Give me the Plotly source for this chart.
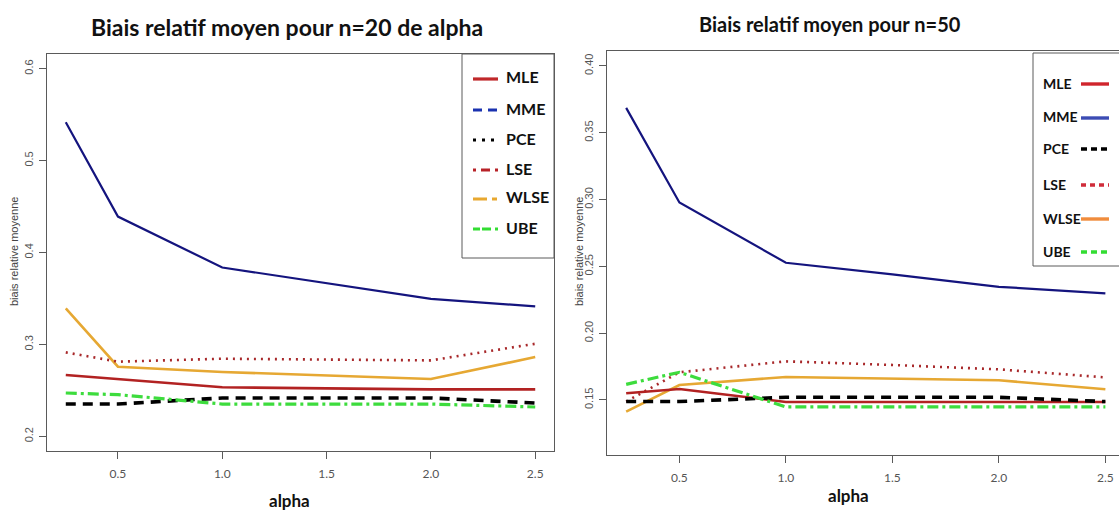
import plotly.graph_objects as go

# ---- data -------------------------------------------------------------
alpha = [0.25, 0.5, 1.0, 1.5, 2.0, 2.5]
estimators = ["MLE", "MME", "PCE", "LSE", "WLSE", "UBE"]

# mean relative bias, n = 20
mle_20 = [0.2667, 0.2620, 0.2533, 0.2522, 0.2511, 0.2511]
mme_20 = [0.5417, 0.4391, 0.3837, 0.3667, 0.3496, 0.3413]
pce_20 = [0.2351, 0.2351, 0.2417, 0.2417, 0.2417, 0.2362]
lse_20 = [0.2913, 0.2812, 0.2844, 0.2837, 0.2826, 0.3007]
wlse_20 = [0.3391, 0.2757, 0.2700, 0.2663, 0.2623, 0.2862]
ube_20 = [0.2471, 0.2453, 0.2351, 0.2351, 0.2351, 0.2319]

# mean relative bias, n = 50
mle_50 = [0.1550, 0.1582, 0.1485, 0.1485, 0.1485, 0.1485]
mme_50 = [0.3686, 0.2978, 0.2527, 0.2440, 0.2347, 0.2298]
pce_50 = [0.1488, 0.1488, 0.1520, 0.1520, 0.1520, 0.1488]
lse_50 = [0.1488, 0.1707, 0.1789, 0.1762, 0.1729, 0.1669]
wlse_50 = [0.1413, 0.1612, 0.1672, 0.1660, 0.1647, 0.1580]
ube_50 = [0.1617, 0.1707, 0.1448, 0.1448, 0.1448, 0.1448]

x_ticks = [0.5, 1.0, 1.5, 2.0, 2.5]
y_ticks_20 = [0.2, 0.3, 0.4, 0.5, 0.6]
y_ticks_50 = [0.15, 0.20, 0.25, 0.30, 0.35, 0.40]

titles = ["Biais relatif moyen pour n=20 de alpha", "Biais relatif moyen pour n=50"]
x_title = "alpha"
y_title = "biais relative moyenne"

# ---- canvas helpers ----------------------------------------------------
W, H = 1119, 511


def px(x):
    return x / W


def py(y):
    return 1 - y / H


HEAD = "Lato, Liberation Sans, sans-serif"
PLAIN = "Liberation Sans, Arial, sans-serif"
AXIS_GREY = "#5a5a5a"

# line styles drawn in the panels
styles = {
    "MLE": dict(color="#b22222", width=2.6, dash="solid"),
    "MME": dict(color="#14147e", width=2.2, dash="solid"),
    "PCE": dict(color="#000000", width=3.6, dash="10px,7px"),
    "LSE": dict(color="#a8282a", width=2.6, dash="2px,5px"),
    "WLSE": dict(color="#e6a833", width=2.6, dash="solid"),
    "UBE": dict(color="#3ddc3d", width=3.2, dash="11px,4px,3px,4px"),
}

fig = go.Figure()

series_20 = [mle_20, mme_20, pce_20, lse_20, wlse_20, ube_20]
series_50 = [mle_50, mme_50, pce_50, lse_50, wlse_50, ube_50]

draw_order = ["MME", "WLSE", "LSE", "MLE", "PCE", "UBE"]
for name in draw_order:
    i = estimators.index(name)
    fig.add_trace(go.Scatter(x=alpha, y=series_20[i], mode="lines", name=name,
                             line=styles[name], showlegend=False,
                             xaxis="x", yaxis="y"))
    fig.add_trace(go.Scatter(x=alpha, y=series_50[i], mode="lines", name=name,
                             line=styles[name], showlegend=False,
                             xaxis="x2", yaxis="y2"))

axis_common = dict(
    showgrid=False, zeroline=False, showline=True, linecolor=AXIS_GREY,
    linewidth=1, ticks="outside", ticklen=7, tickcolor=AXIS_GREY, tickwidth=1,
)
x_tickfont = dict(family=HEAD, size=12, color="#555555")
y_tickfont = dict(family=PLAIN, size=11, color="#555555")

fig.update_layout(
    width=W, height=H,
    margin=dict(l=0, r=0, t=0, b=0),
    paper_bgcolor="white", plot_bgcolor="white",
    showlegend=False,
    xaxis=dict(domain=[px(47), px(554)], range=[0.16, 2.59], anchor="y",
               tickvals=x_ticks, tickformat=".1f", mirror=True,
               tickfont=x_tickfont, ticklabelstandoff=5, **axis_common),
    yaxis=dict(domain=[py(451), py(54)], range=[0.184, 0.616], anchor="x",
               tickvals=y_ticks_20, tickformat=".1f", mirror=True,
               tickangle=-90, tickfont=y_tickfont, ticklabelstandoff=2,
               **axis_common),
    xaxis2=dict(domain=[px(607), 1.0], range=[0.16, 2.564], anchor="y2",
                tickvals=x_ticks, tickformat=".1f", mirror=True,
                tickfont=x_tickfont, ticklabelstandoff=5, **axis_common),
    yaxis2=dict(domain=[py(455), py(51)], range=[0.1088, 0.4112], anchor="x2",
                tickvals=y_ticks_50, tickformat=".2f", mirror=False,
                tickangle=-90, tickfont=y_tickfont, ticklabelstandoff=2,
                **axis_common),
)

annotations = []
shapes = []

# titles
for text, cx, cy, size in [(titles[0], 287, 27, 23), (titles[1], 830, 24, 20)]:
    annotations.append(dict(text=f"<b>{text}</b>", x=px(cx), y=py(cy),
                            xref="paper", yref="paper", showarrow=False,
                            xanchor="center", yanchor="middle",
                            font=dict(family=HEAD, size=size, color="#111111")))

# axis titles
for cx, cy in [(289, 500), (848, 495)]:
    annotations.append(dict(text=f"<b>{x_title}</b>", x=px(cx), y=py(cy),
                            xref="paper", yref="paper", showarrow=False,
                            xanchor="center", yanchor="middle",
                            font=dict(family=HEAD, size=17, color="#111111")))
for cx, cy in [(14, 252), (579, 252)]:
    annotations.append(dict(text=y_title, x=px(cx), y=py(cy), textangle=-90,
                            xref="paper", yref="paper", showarrow=False,
                            xanchor="center", yanchor="middle",
                            font=dict(family=PLAIN, size=11, color="#444444")))

# legend, n = 20 panel: key on the left, label on the right
key_20 = {
    "MLE": dict(color="#c0282a", width=3.2, dash="solid"),
    "MME": dict(color="#1a32b0", width=3.2, dash="9px,6px"),
    "PCE": dict(color="#000000", width=3.2, dash="3px,6px"),
    "LSE": dict(color="#b82228", width=3.2, dash="3px,5px,9px,5px"),
    "WLSE": dict(color="#e8a830", width=3.2, dash="14px,5px,5px,5px"),
    "UBE": dict(color="#33dd33", width=3.2, dash="7px,2px,9px,4px"),
}
shapes.append(dict(type="rect", xref="paper", yref="paper",
                   x0=px(462), x1=px(554), y0=py(258), y1=py(54),
                   line=dict(color=AXIS_GREY, width=1), fillcolor="white", layer="above"))
rows_20 = [77, 108, 138, 168, 197, 227]
for name, ry in zip(estimators, rows_20):
    shapes.append(dict(type="line", xref="paper", yref="paper",
                       x0=px(473), x1=px(498), y0=py(ry + 2), y1=py(ry + 2),
                       line=key_20[name], layer="above"))
    annotations.append(dict(text=f"<b>{name}</b>", x=px(504), y=py(ry),
                            xref="paper", yref="paper", showarrow=False,
                            xanchor="left", yanchor="middle",
                            font=dict(family=HEAD, size=16, color="#111111")))

# legend, n = 50 panel: label on the left, key on the right
key_50 = {
    "MLE": dict(color="#d0242c", width=3.4, dash="solid"),
    "MME": dict(color="#3c4cb4", width=3.4, dash="solid"),
    "PCE": dict(color="#000000", width=3.4, dash="6px,4px"),
    "LSE": dict(color="#d02c3a", width=3.4, dash="5px,4px"),
    "WLSE": dict(color="#f08c3c", width=3.4, dash="solid"),
    "UBE": dict(color="#33dd33", width=3.4, dash="6px,4px"),
}
shapes.append(dict(type="rect", xref="paper", yref="paper",
                   x0=px(1033), x1=px(1130), y0=py(266), y1=py(53),
                   line=dict(color=AXIS_GREY, width=1), fillcolor="white", layer="above"))
rows_50 = [83, 117, 148, 184, 218, 251]
for name, ry in zip(estimators, rows_50):
    shapes.append(dict(type="line", xref="paper", yref="paper",
                       x0=px(1081), x1=px(1109), y0=py(ry + 1), y1=py(ry + 1),
                       line=key_50[name], layer="above"))
    annotations.append(dict(text=f"<b>{name}</b>", x=px(1041), y=py(ry),
                            xref="paper", yref="paper", showarrow=False,
                            xanchor="left", yanchor="middle",
                            font=dict(family=HEAD, size=14, color="#111111")))

fig.update_layout(annotations=annotations, shapes=shapes)

fig.write_html("out.html")
